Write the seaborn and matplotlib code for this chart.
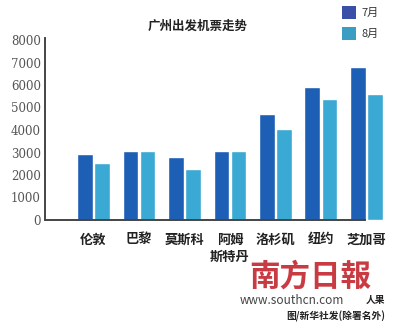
import matplotlib
matplotlib.use("Agg")
import matplotlib.pyplot as plt
from matplotlib.patches import Patch
import seaborn as sns
import pandas as pd

cities = ["伦敦", "巴黎", "莫斯科", "阿姆\n斯特丹", "洛杉矶", "纽约", "芝加哥"]
july = [2950, 3050, 2800, 3050, 4700, 5900, 6800]
august = [2550, 3050, 2250, 3050, 4050, 5400, 5600]
series = ["7月", "8月"]
yticks = [0, 1000, 2000, 3000, 4000, 5000, 6000, 7000, 8000]

df = pd.DataFrame({
    "city": cities * 2,
    "value": july + august,
    "month": [series[0]] * len(cities) + [series[1]] * len(cities),
})

sns.set_theme(style="white")
plt.rcParams["font.family"] = ["Noto Sans CJK SC", "DejaVu Sans"]

fig = plt.figure(figsize=(4.0, 3.33), dpi=100)
W, H = 400, 333
left, right = 45 / W, 386 / W
bottom, top = 1 - 220 / H, 1 - 40 / H
ax = fig.add_axes([left, bottom, right - left, top - bottom])

bar_colors = ["#1e5fb6", "#3aa9d3"]
sns.barplot(data=df, x="city", y="value", hue="month", order=cities,
            hue_order=series, palette=bar_colors, width=0.75, gap=0.07,
            saturation=1, ax=ax, legend=False)

ax.set_ylim(0, 8000)
ax.set_xlim(-1.066, 6.43)
ax.set_yticks(yticks)
ax.set_yticklabels([str(v) for v in yticks], fontfamily="DejaVu Serif",
                   fontsize=8.5, color="#555555")
ax.set_xlabel("")
ax.set_ylabel("")
for s in ["top", "right"]:
    ax.spines[s].set_visible(False)
for s in ["left", "bottom"]:
    ax.spines[s].set_color("#444444")
    ax.spines[s].set_linewidth(1.4)
ax.spines["bottom"].set_bounds(-1.066, 5.97)
ax.spines["left"].set_bounds(0, 8100)
ax.tick_params(axis="y", direction="in", length=5, width=1.2, color="#444444", pad=3)
ax.tick_params(axis="x", length=0, pad=9)
for lab in ax.get_xticklabels():
    lab.set_fontweight("bold")
    lab.set_fontsize(9.5)
    lab.set_color("#222222")
    lab.set_linespacing(1.3)
    lab.set_verticalalignment("top")

fig.text(198 / W, 1 - 26 / H, "广州出发机票走势", ha="center", va="center",
         fontsize=9, fontweight="bold", color="#222222")

leg_colors = ["#3a50a8", "#3a9ec2"]
handles = [Patch(facecolor=c, edgecolor="none", label=l) for c, l in zip(leg_colors, series)]
fig.legend(handles=handles, loc="upper left", bbox_to_anchor=(342 / W, 1 - 6 / H),
           frameon=False, fontsize=8, handlelength=1.3, handleheight=1.4,
           labelspacing=0.75, handletextpad=0.45, borderpad=0, borderaxespad=0,
           labelcolor="#333333")

fig.text(249 / W, 1 - 277 / H, "南方日報", ha="left", va="center",
         fontsize=22, fontweight="bold", color="#c4262e", alpha=0.9)
fig.text(240 / W, 1 - 300 / H, "www.southcn.com", ha="left", va="center",
         fontsize=8.5, color="#444444")
fig.text(385 / W, 1 - 300 / H, "人果", ha="right", va="center",
         fontsize=7, fontweight="bold", color="#222222")
fig.text(385 / W, 1 - 316 / H, "图/新华社发(除署名外)", ha="right", va="center",
         fontsize=7, fontweight="bold", color="#222222")

fig.savefig("out.png", dpi=100, facecolor="white")
